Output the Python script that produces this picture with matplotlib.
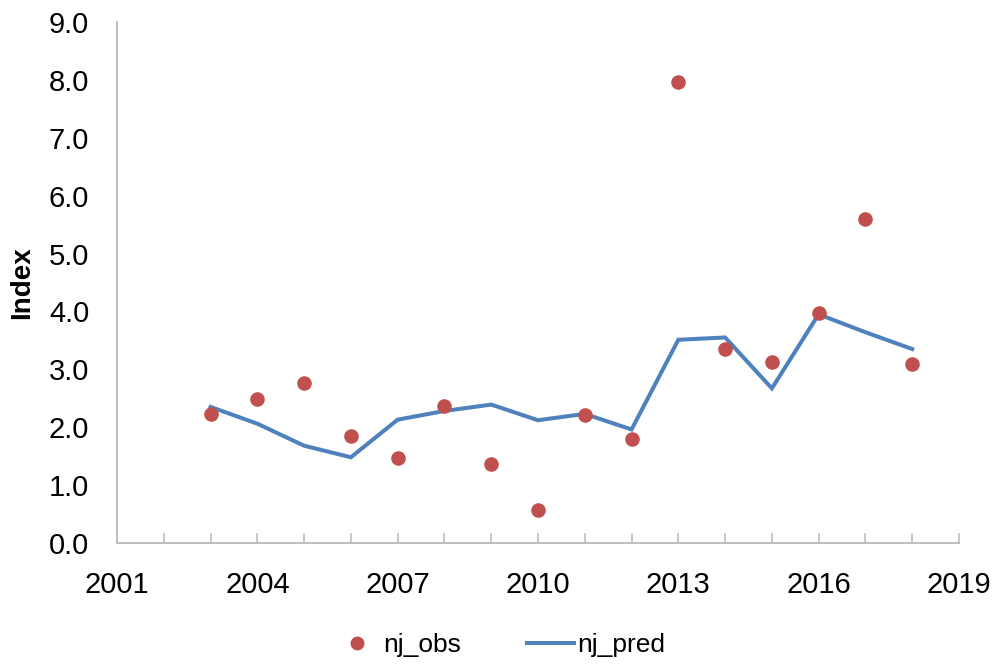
import matplotlib
matplotlib.use("Agg")
import matplotlib.pyplot as plt
from matplotlib.lines import Line2D
from matplotlib.ticker import MultipleLocator, FormatStrFormatter

years = [2003, 2004, 2005, 2006, 2007, 2008, 2009, 2010, 2011, 2012,
         2013, 2014, 2015, 2016, 2017, 2018]
nj_obs = [2.23, 2.49, 2.76, 1.85, 1.46, 2.36, 1.36, 0.57, 2.21, 1.79,
          7.97, 3.35, 3.13, 3.97, 5.59, 3.09]
nj_pred = [2.35, 2.06, 1.68, 1.48, 2.13, 2.28, 2.39, 2.12, 2.23, 1.96,
           3.51, 3.55, 2.67, 3.95, 3.64, 3.35]
x_major = [2001, 2004, 2007, 2010, 2013, 2016, 2019]

plt.rcParams['font.family'] = ['Liberation Sans', 'DejaVu Sans']

fig = plt.figure(figsize=(9.95, 6.67), dpi=100)
ax = fig.add_axes([0.1176, 0.186, 0.9638 - 0.1176, 0.967 - 0.186])

obs_color = '#C0504D'
pred_color = '#4F81BD'
axis_color = '#BFBFBF'

ax.plot(years, nj_pred, color=pred_color, lw=2.9, solid_joinstyle='miter', zorder=2)
ax.scatter(years, nj_obs, s=110, color=obs_color, zorder=3, linewidths=0)

ax.set_xlim(2001, 2019)
ax.set_ylim(0, 9)
ax.yaxis.set_major_locator(MultipleLocator(1.0))
ax.yaxis.set_major_formatter(FormatStrFormatter('%.1f'))
ax.set_xticks(x_major)
ax.set_xticklabels([str(v) for v in x_major])
ax.xaxis.set_minor_locator(MultipleLocator(1))

for s in ['top', 'right']:
    ax.spines[s].set_visible(False)
for s in ['left', 'bottom']:
    ax.spines[s].set_color(axis_color)
    ax.spines[s].set_linewidth(1.5)

ax.tick_params(axis='y', length=0, labelsize=21, pad=20, colors='black')
ax.tick_params(axis='x', which='major', direction='in', length=7, width=1.2,
               color=axis_color, labelsize=21, pad=20)
ax.tick_params(axis='x', which='minor', direction='in', length=7, width=1.2,
               color=axis_color)

ax.set_ylabel('Index', fontsize=20, fontweight='bold', labelpad=10)

handles = [
    Line2D([], [], marker='o', linestyle='none', color=obs_color,
           markersize=10, markeredgewidth=0),
    Line2D([], [], color=pred_color, lw=2.9),
]
fig.legend(handles, ['nj_obs', 'nj_pred'], loc='center',
           bbox_to_anchor=(0.5015, 0.033), ncol=2, frameon=False,
           fontsize=19, handlelength=1.8, handletextpad=0.1,
           columnspacing=2.5)

fig.savefig('out.png', dpi=100)
